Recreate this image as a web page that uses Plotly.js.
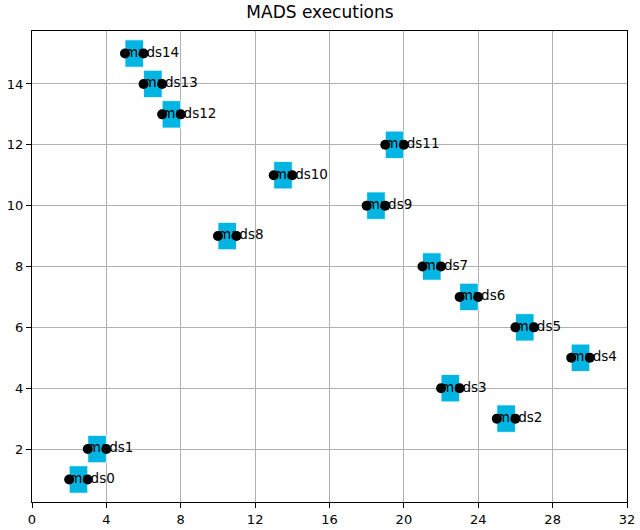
<!DOCTYPE html>
<html>
<head>
<meta charset="utf-8">
<script src="https://cdn.plot.ly/plotly-3.0.1.min.js"></script>
<style>html,body{margin:0;padding:0;background:#fff}#chart{width:640px;height:530px}</style>
</head>
<body>
<div id="chart"></div>
<script>
const tasks = ["mads0","mads1","mads2","mads3","mads4","mads5","mads6","mads7","mads8","mads9","mads10","mads11","mads12","mads13","mads14"];
const rows = [1,2,3,4,5,6,7,8,9,10,11,12,13,14,15];
const starts = [2,3,25,22,29,26,23,21,10,18,13,19,7,6,5];
const ends = [3,4,26,23,30,27,24,22,11,19,14,20,8,7,6];
const xTicks = [0,4,8,12,16,20,24,28,32];
const yTicks = [2,4,6,8,10,12,14];

const durations = starts.map((s,i)=>ends[i]-s);
const font = "DejaVu Sans, sans-serif";

const traces = [
  {type:'bar', orientation:'h', base:starts, x:durations, y:rows, width:0.9,
   marker:{color:'#00b5e2', line:{color:'#ffffff', width:0.8}}, hoverinfo:'skip'},
  {type:'scatter', mode:'text', x:starts, y:rows, text:tasks, textposition:'middle right',
   marker:{size:0},
   textfont:{family:font, size:13.5, color:'#000000'}},
  {type:'scatter', mode:'markers', x:starts, y:rows,
   marker:{color:'#000000', size:10}},
  {type:'scatter', mode:'markers', x:ends, y:rows,
   marker:{color:'#000000', size:10}}
];

const axisCommon = {
  showgrid:true, gridcolor:'#b0b0b0', gridwidth:1,
  showline:true, linecolor:'#000000', linewidth:1, mirror:true,
  ticks:'outside', ticklen:5, tickcolor:'#000000', tickwidth:1,
  zeroline:false, tickfont:{family:font, size:13, color:'#000000'}
};

const layout = {
  width:640, height:530,
  margin:{l:32, r:13, t:31, b:28},
  paper_bgcolor:'#ffffff', plot_bgcolor:'#ffffff',
  showlegend:false,
  title:{text:'MADS executions', font:{family:font, size:17, color:'#000000'}, x:0.5, xanchor:'center', y:0.977, yanchor:'middle'},
  xaxis:Object.assign({}, axisCommon, {range:[0,32], tickvals:xTicks}),
  yaxis:Object.assign({}, axisCommon, {range:[0.26,15.74], tickvals:yTicks}),
  bargap:0
};

Plotly.newPlot('chart', traces, layout, {staticPlot:true, displayModeBar:false});
</script>
</body>
</html>
